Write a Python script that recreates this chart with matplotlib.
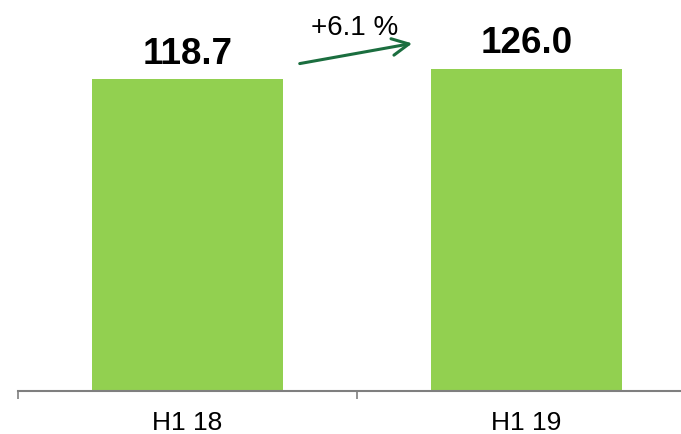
import numpy as np
import matplotlib.pyplot as plt

plt.rcParams['font.family'] = ['Liberation Sans', 'DejaVu Sans']

categories = ['H1 18', 'H1 19']
values = [118.7, 126.0]
labels = ['118.7', '126.0']
growth = '+6.1 %'

bar_color = '#92D050'
arrow_color = '#1B6E3F'
ylo, yhi = -96, 174

fig = plt.figure(figsize=(6.81, 4.35), dpi=100)
ax = fig.add_axes([18/681, 43/435, 678/681, 392/435])

x = np.arange(len(categories))
ax.bar(x, np.array(values) - ylo, bottom=ylo, width=0.565, color=bar_color)

for xi, v, lab in zip(x, values, labels):
    ax.annotate(lab, (xi, v), xytext=(0, 12), textcoords='offset points',
                ha='center', va='baseline', fontsize=26.5, fontweight='bold')

# growth arrow between the bars
ax.annotate('', xy=(0.671, 0.888), xytext=(0.323, 0.834),
            xycoords=('data', 'axes fraction'), textcoords=('data', 'axes fraction'),
            arrowprops=dict(arrowstyle='->,head_length=1.2,head_width=0.6',
                            color=arrow_color, lw=2.2))
ax.text(0.494, 0.911, growth, transform=ax.get_xaxis_transform(),
        ha='center', va='baseline', fontsize=20)

ax.set_xlim(-0.5, 1.5)
ax.set_ylim(ylo, yhi)
ax.set_xticks([-0.5, 0.5, 1.5])
ax.set_xticklabels([])
ax.set_xticks(x, minor=True)
ax.set_xticklabels(categories, minor=True, fontsize=19)
ax.tick_params(axis='x', which='major', length=6, width=1.2, color='#7F7F7F', direction='out')
ax.tick_params(axis='x', which='minor', length=0, pad=14)
ax.set_yticks([])
for s in ['left', 'right', 'top']:
    ax.spines[s].set_visible(False)
ax.spines['bottom'].set_color('#7F7F7F')
ax.spines['bottom'].set_linewidth(1.5)

fig.savefig('out.png', dpi=100)
